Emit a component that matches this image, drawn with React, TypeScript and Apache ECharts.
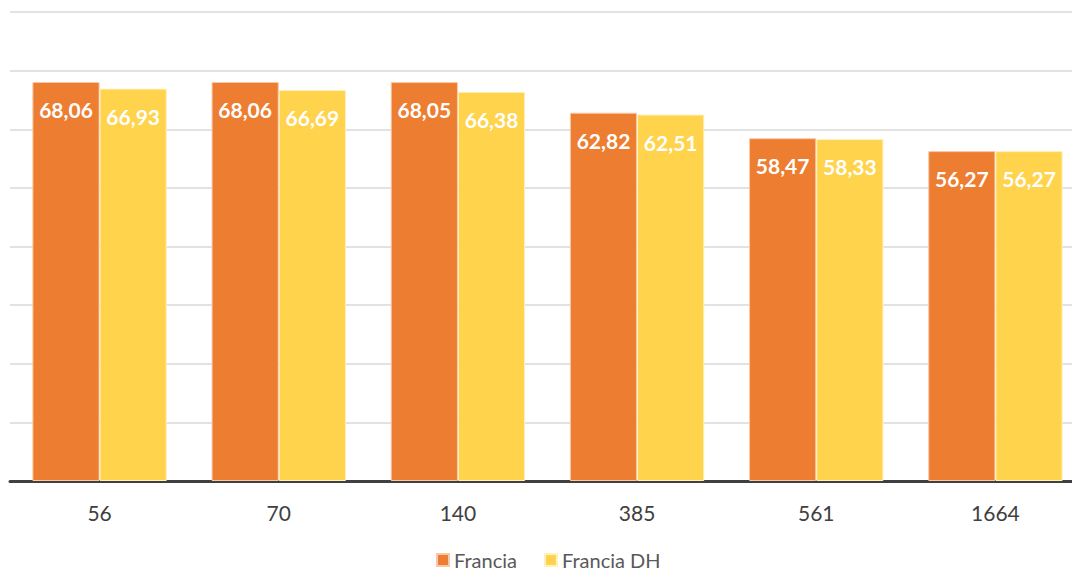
import React, { useEffect, useRef } from "react";
import * as echarts from "echarts";

const categories = ["56", "70", "140", "385", "561", "1664"];
const francia = [68.06, 68.06, 68.05, 62.82, 58.47, 56.27];
const franciaDH = [66.93, 66.69, 66.38, 62.51, 58.33, 56.27];
const seriesNames = ["Francia", "Francia DH"];

export default function App() {
  const ref = useRef<HTMLDivElement>(null);
  useEffect(() => {
    const chart = echarts.init(ref.current!, null, { renderer: "svg" });
    const label = {
      show: true,
      position: "insideTop",
      distance: 17,
      color: "#ffffff",
      fontWeight: "bold",
      fontSize: 21,
      fontFamily: "Lato",
      formatter: (p: any) => p.value.toFixed(2).replace(".", ","),
    };
    chart.setOption({
      animation: false,
      grid: { left: 10, right: 0, top: 12, bottom: 92 },
      legend: {
        data: seriesNames,
        top: 550,
        left: 436,
        padding: 0,
        icon: "rect",
        itemWidth: 12,
        itemHeight: 12,
        itemGap: 27,
        textStyle: { color: "#595959", fontSize: 20, fontFamily: "Lato" },
      },
      xAxis: {
        type: "category",
        data: categories,
        axisTick: { show: false },
        axisLine: { lineStyle: { color: "#404040", width: 3 } },
        axisLabel: { color: "#404040", fontSize: 21, fontFamily: "Lato", margin: 21 },
      },
      yAxis: {
        type: "value",
        min: 0,
        max: 80,
        interval: 10,
        axisLabel: { show: false },
        splitLine: { lineStyle: { color: "#d9d9d9", width: 1.5 } },
      },
      series: [
        {
          name: seriesNames[0],
          type: "bar",
          data: francia,
          barGap: "0%",
          barCategoryGap: "25%",
          itemStyle: { color: "#ED7D31", borderColor: "#f8c9a8", borderWidth: 1 },
          label,
        },
        {
          name: seriesNames[1],
          type: "bar",
          data: franciaDH,
          itemStyle: { color: "#FFD34B", borderColor: "#fff0c0", borderWidth: 1 },
          label,
        },
      ],
    });
    return () => chart.dispose();
  }, []);
  return (
    <div
      ref={ref}
      style={{ position: "absolute", left: 0, top: 0, width: 1085, height: 573 }}
    />
  );
}
